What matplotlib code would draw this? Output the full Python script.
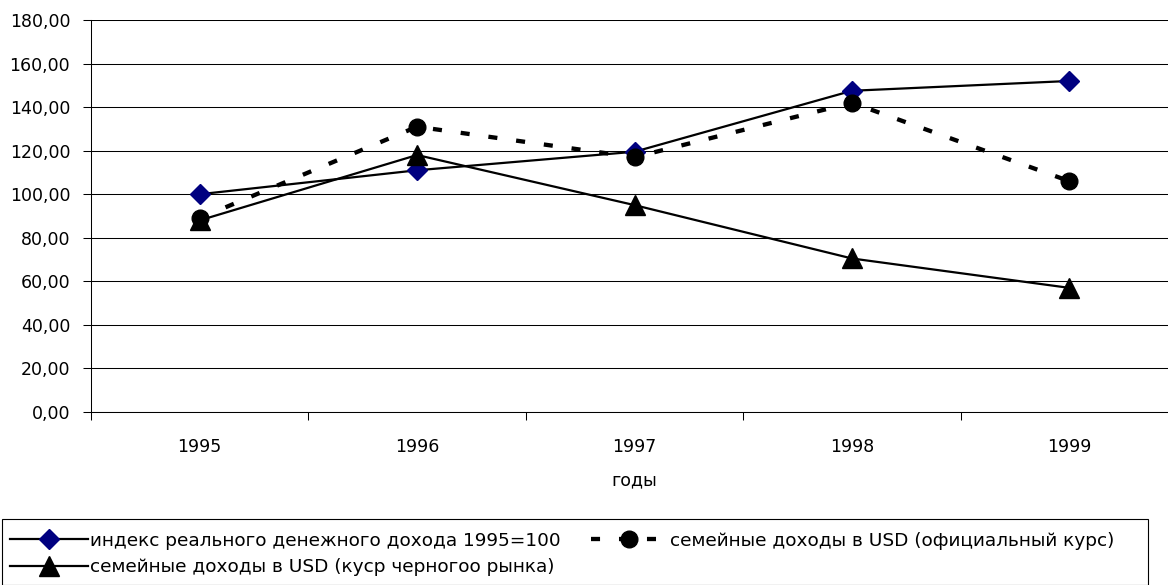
import matplotlib
matplotlib.use("Agg")
import matplotlib.pyplot as plt
from matplotlib.ticker import FixedLocator, FuncFormatter
from matplotlib.patches import Rectangle

plt.rcParams['font.family'] = ['DejaVu Sans']

years = ["1995", "1996", "1997", "1998", "1999"]
real_income_index = [100.0, 111.0, 119.5, 147.5, 152.0]
usd_official = [89.0, 131.0, 117.0, 142.0, 106.0]
usd_black_market = [88.0, 118.0, 95.0, 70.5, 57.0]

label_index = "индекс реального денежного дохода 1995=100"
label_official = "семейные доходы в USD (официальный курс)"
label_black = "семейные доходы в USD (куср черногоо рынка)"
xlabel = "годы"
yticks = [0, 20, 40, 60, 80, 100, 120, 140, 160, 180]

W, H = 1168, 585
fig = plt.figure(figsize=(W / 100, H / 100), dpi=100)
ax = fig.add_axes([91 / W, 1 - 412 / H, 1087 / W, 392 / H])

x = list(range(len(years)))
fs = 12.5
lfs = 13.3

l1, = ax.plot(x, real_income_index, color='black', lw=1.6, marker='D', ms=10.2,
              mfc='#000080', mec='#000080', zorder=3, label=label_index)
l2, = ax.plot(x, usd_official, color='black', lw=3.1, linestyle=(0, (2.1, 4.4)),
              marker='o', ms=12, mfc='black', mec='black', zorder=4, label=label_official)
l3, = ax.plot(x, usd_black_market, color='black', lw=1.6, marker='^', ms=14.5,
              mfc='black', mec='black', zorder=5, label=label_black)

ax.set_xlim(-0.5, len(years) - 0.5)
ax.set_ylim(0, 180)
ax.set_yticks(yticks)
ax.yaxis.set_major_formatter(FuncFormatter(lambda v, p: f"{v:.2f}".replace('.', ',')))
ax.yaxis.grid(True, color='black', lw=0.75)
ax.set_axisbelow(True)

ax.set_xticks(x)
ax.set_xticklabels(years)
ax.xaxis.set_minor_locator(FixedLocator([i - 0.5 for i in range(len(years) + 1)]))
ax.tick_params(axis='x', which='major', length=0, pad=19, labelsize=fs)
ax.tick_params(axis='x', which='minor', length=6, width=0.75, direction='out')
ax.tick_params(axis='y', which='major', length=6, width=0.75, direction='out', pad=9, labelsize=fs)

for s in ['top', 'right']:
    ax.spines[s].set_visible(False)
ax.spines['left'].set_linewidth(0.75)
ax.spines['bottom'].set_linewidth(0.75)

ax.set_xlabel(xlabel, fontsize=fs, labelpad=11)

leg = fig.legend(handles=[l1, l3, l2], ncol=2, loc='upper left',
                 bbox_to_anchor=(-2.5 / W, 1 - 519 / H),
                 borderaxespad=0, fontsize=lfs, frameon=False,
                 borderpad=0.7, labelspacing=0.45, columnspacing=1.63,
                 handlelength=4.2, handletextpad=0.1)
fig.add_artist(Rectangle((2 / W, 0), 1146 / W, 1 - 519 / H, transform=fig.transFigure,
                         fill=False, edgecolor='black', lw=0.8))

fig.savefig("out.png", dpi=100)
